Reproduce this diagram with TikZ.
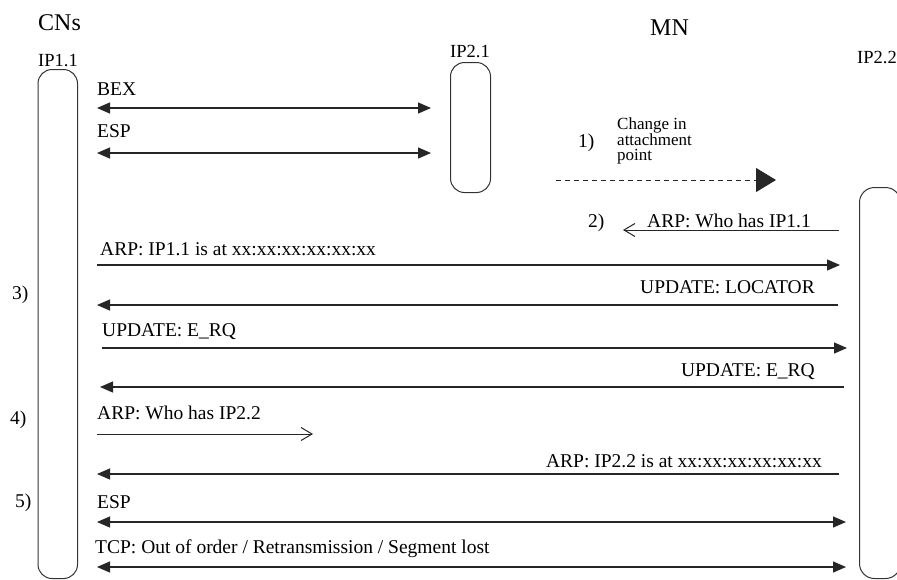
\documentclass[tikz,border=0pt]{standalone}
\usepackage{fontspec}
\setmainfont{Liberation Serif}
\usetikzlibrary{arrows.meta}
\begin{document}
\begin{tikzpicture}[x=1pt,y=-1pt,
  lbl/.style={anchor=base west, inner sep=0pt, font=\fontsize{19.5}{23}\selectfont},
  lblr/.style={lbl, anchor=base east},
  small/.style={anchor=base west, inner sep=0pt, font=\fontsize{17}{15}\selectfont, align=left},
  head/.style={anchor=base west, inner sep=0pt, font=\fontsize{24}{28}\selectfont},
  ipl/.style={anchor=base west, inner sep=0pt, font=\fontsize{18.5}{22}\selectfont},
  lifeline/.style={draw=black!80, line width=1pt, rounded corners=14pt, anchor=north west, inner sep=0pt},
  msg/.style={line width=1.3pt, draw=black!85, -{Triangle[length=13pt,width=11pt]}},
  dmsg/.style={line width=1.3pt, draw=black!85, {Triangle[length=13pt,width=11pt]}-{Triangle[length=13pt,width=11pt]}},
  omsg/.style={line width=1pt, draw=black!85, -{Straight Barb[length=11pt,width=13pt]}},
  move/.style={line width=1pt, draw=black!85, dash pattern=on 5pt off 4pt, -{Triangle[length=20pt,width=24pt]}},
  ]
\useasboundingbox (0,0) rectangle (897,579);

% headers
\node[head] (cns) at (38,30) {CNs};
\node[head] (mn) at (650,35) {MN};
\node[ipl] (ip11) at (38,66) {IP1.1};
\node[ipl] (ip21) at (450,57) {IP2.1};
\node[ipl, anchor=base east] (ip22) at (897,63) {IP2.2};

% lifelines
\node[lifeline, minimum width=39.5pt, minimum height=509pt] (cn) at (37.5,69) {};
\node[lifeline, minimum width=40pt, minimum height=130pt] (old) at (450,62) {};
\node[lifeline, minimum width=41pt, minimum height=391pt, rounded corners=15pt] (new) at (859,187) {};

% step numbers
\node[lbl] (s1) at (578,147) {1)};
\node[lbl] (s2) at (588,227) {2)};
\node[lbl] (s3) at (12,299) {3)};
\node[lbl] (s4) at (10,424) {4)};
\node[lbl] (s5) at (15,507) {5)};

% BEX / ESP with old address
\coordinate (a1) at (97,108);  \coordinate (b1) at (431,108);
\node[lbl] (lbex) at (97,95) {BEX};
\draw[dmsg] (a1) -- (b1);
\coordinate (a2) at (97,153);  \coordinate (b2) at (431,153);
\node[lbl] (lesp) at (97,137) {ESP};
\draw[dmsg] (a2) -- (b2);

% change in attachment point
\node[small] (chg) at (617,160.5) {Change in\\attachment\\point};
\coordinate (a3) at (556,180); \coordinate (b3) at (776,180);
\draw[move] (a3) -- (b3);

% 2) ARP who has IP1.1
\coordinate (a4) at (839,230); \coordinate (b4) at (623,230);
\node[lbl] (larp1) at (647,227.5) {ARP: Who has IP1.1};
\draw[omsg] (a4) -- (b4);

% 3)
\coordinate (a5) at (97,265); \coordinate (b5) at (840,265);
\node[lbl] (larp2) at (100,255) {ARP: IP1.1 is at xx:xx:xx:xx:xx:xx};
\draw[msg] (a5) -- (b5);

\coordinate (a6) at (838,305); \coordinate (b6) at (97,305);
\node[lblr] (lloc) at (815,293) {UPDATE: LOCATOR};
\draw[msg] (a6) -- (b6);

\coordinate (a7) at (102,348); \coordinate (b7) at (847,348);
\node[lbl] (lerq1) at (102,336) {UPDATE: E\_RQ};
\draw[msg] (a7) -- (b7);

\coordinate (a8) at (844,387); \coordinate (b8) at (100,387);
\node[lblr] (lerq2) at (815,376) {UPDATE: E\_RQ};
\draw[msg] (a8) -- (b8);

% 4)
\coordinate (a9) at (97,434); \coordinate (b9) at (313,434);
\node[lbl] (larp3) at (97,419) {ARP: Who has IP2.2};
\draw[omsg] (a9) -- (b9);

\coordinate (a10) at (839,474); \coordinate (b10) at (97,474);
\node[lblr] (larp4) at (822,467) {ARP: IP2.2 is at xx:xx:xx:xx:xx:xx};
\draw[msg] (a10) -- (b10);

% 5)
\coordinate (a11) at (97,522); \coordinate (b11) at (846,522);
\node[lbl] (lesp2) at (97,508) {ESP};
\draw[dmsg] (a11) -- (b11);

\coordinate (a12) at (97,567); \coordinate (b12) at (846,567);
\node[lbl] (ltcp) at (95,553) {TCP: Out of order / Retransmission / Segment lost};
\draw[dmsg] (a12) -- (b12);
\end{tikzpicture}
\end{document}
